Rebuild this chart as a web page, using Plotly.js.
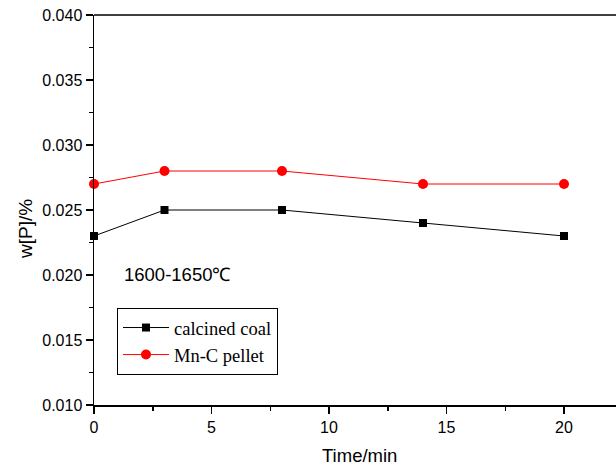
<!DOCTYPE html>
<html><head><meta charset="utf-8">
<script src="https://cdn.plot.ly/plotly-3.0.1.min.js"></script>
<style>body{margin:0;}#c{width:616px;height:467px;}</style>
</head><body><div id="c"></div>
<script>
const timeMin = [0, 3, 8, 14, 20];
const calcinedCoal = [0.023, 0.025, 0.025, 0.024, 0.023];
const mnCPellet = [0.027, 0.028, 0.028, 0.027, 0.027];
const seriesNames = ['calcined coal', 'Mn-C pellet'];
const xTicks = [0, 5, 10, 15, 20];
const yTicks = [0.010, 0.015, 0.020, 0.025, 0.030, 0.035, 0.040];

const L = 94, R = 616, T = 15, B = 405;
const pw = R - L, ph = B - T;

const traces = [
  {x: timeMin, y: calcinedCoal, name: seriesNames[0], mode: 'lines+markers', cliponaxis: false,
   line: {color: '#000000', width: 1}, marker: {symbol: 'square', size: 8, color: '#000000'}},
  {x: timeMin, y: mnCPellet, name: seriesNames[1], mode: 'lines+markers', cliponaxis: false,
   line: {color: '#ff0000', width: 1}, marker: {symbol: 'circle', size: 10, color: '#ff0000'}}
];

const sans = 'Liberation Sans, Arial, sans-serif';
const axFont = {family: sans, size: 16, color: '#000'};
const layout = {
  width: 616, height: 467,
  margin: {l: L, r: 616 - R, t: T, b: 467 - B},
  paper_bgcolor: '#fff', plot_bgcolor: '#fff',
  showlegend: true,
  xaxis: {range: [0, (R - L) / 23.5], tickvals: xTicks, ticktext: xTicks.map(String),
    showgrid: false, zeroline: false, showline: true, linecolor: '#000', linewidth: 1.5,
    ticks: 'outside', ticklen: 7, tickwidth: 1.5, tickcolor: '#000', tickfont: axFont,
    minor: {tickvals: [2.5, 7.5, 12.5, 17.5], ticks: 'outside', ticklen: 4, tickwidth: 1.5, tickcolor: '#000', showgrid: false},
    mirror: false},
  yaxis: {range: [0.010, 0.040], tickvals: yTicks, ticktext: yTicks.map(v => v.toFixed(3)),
    showgrid: false, zeroline: false, showline: true, linecolor: '#000', linewidth: 1.5,
    ticks: 'outside', ticklen: 7, tickwidth: 1.5, tickcolor: '#000', tickfont: axFont,
    minor: {tickvals: [0.0125, 0.0175, 0.0225, 0.0275, 0.0325, 0.0375], ticks: 'outside', ticklen: 4, tickwidth: 1.5, tickcolor: '#000', showgrid: false}},
  shapes: [{type: 'line', xref: 'paper', yref: 'paper', x0: 0, x1: 1, y0: 1, y1: 1, line: {color: '#000', width: 1.5}}],
  legend: {x: (117 - L) / pw, y: (B - 308) / ph, xanchor: 'left', yanchor: 'top',
    bordercolor: '#000', borderwidth: 1, bgcolor: '#fff',
    font: {family: 'Liberation Serif, Times New Roman, serif', size: 18.5, color: '#000'},
    itemwidth: 46, tracegroupgap: 0},
  annotations: [
    {text: '1600-1650℃', xref: 'paper', yref: 'paper', x: (122 - L) / pw, y: (B - 274) / ph,
     xanchor: 'left', yanchor: 'middle', showarrow: false,
     font: {family: sans, size: 18.5, color: '#000'}},
    {text: 'Time/min', xref: 'paper', yref: 'paper', x: (359 - L) / pw, y: (B - 455) / ph,
     xanchor: 'center', yanchor: 'middle', showarrow: false,
     font: {family: sans, size: 18.5, color: '#000'}},
    {text: 'w[P]/%', xref: 'paper', yref: 'paper', x: (25 - L) / pw, y: (B - 229) / ph,
     xanchor: 'center', yanchor: 'middle', showarrow: false, textangle: -90,
     font: {family: sans, size: 19, color: '#000'}}
  ]
};
Plotly.newPlot('c', traces, layout, {displayModeBar: false, staticPlot: true});
</script></body></html>
